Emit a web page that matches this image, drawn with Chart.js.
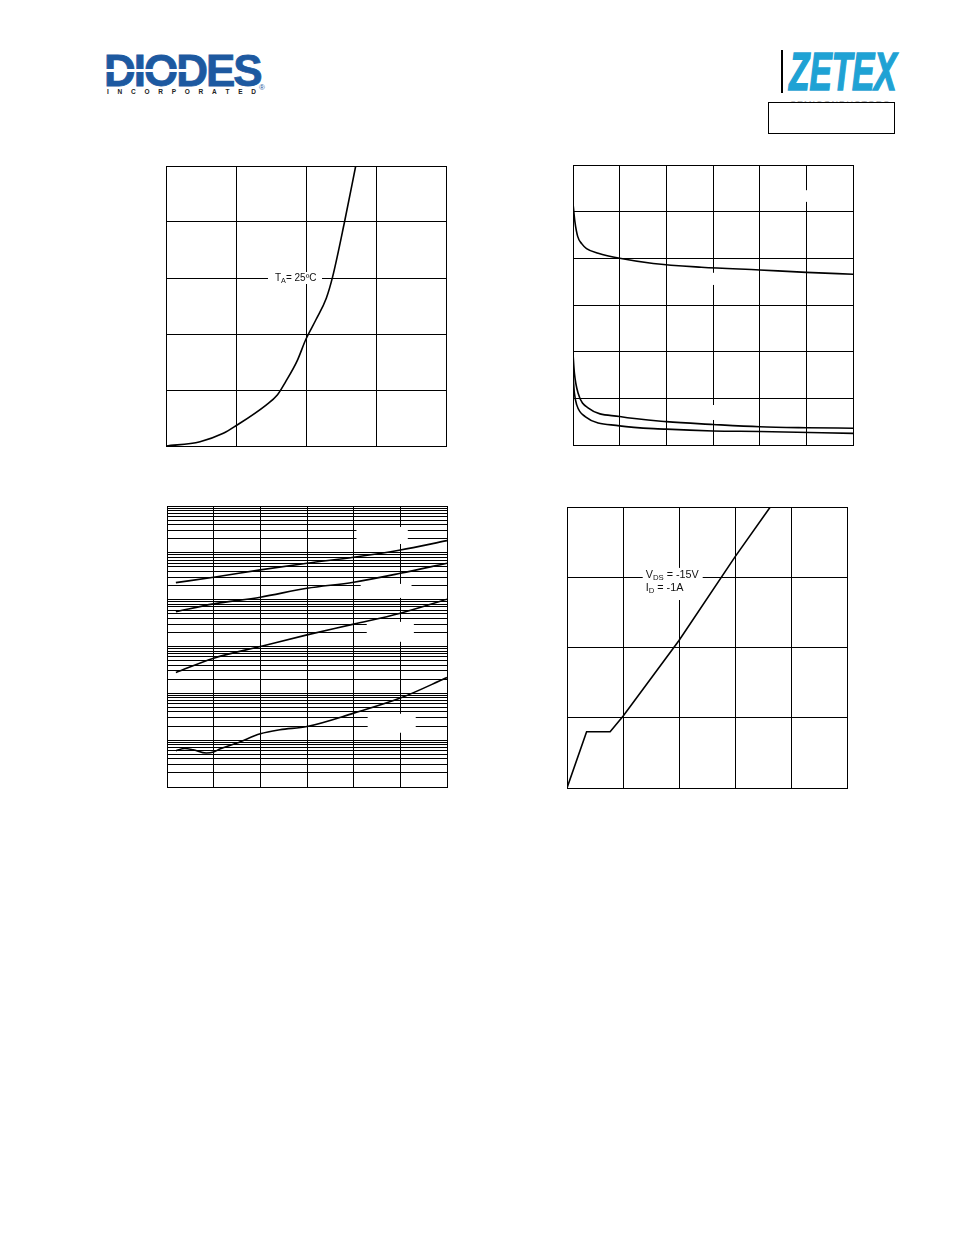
<!DOCTYPE html>
<html><head><meta charset="utf-8">
<script src="https://cdn.jsdelivr.net/npm/chart.js@4"></script>
<style>
html,body{margin:0;padding:0;background:#fff;}
body{width:954px;height:1235px;position:relative;overflow:hidden;font-family:"Liberation Sans",Arial,sans-serif;}
canvas{position:absolute;}
.diodes{position:absolute;left:104px;top:49px;font-weight:bold;font-size:44px;line-height:44px;color:#1d59a0;letter-spacing:-2px;-webkit-text-stroke:0.8px #1d59a0;white-space:nowrap;}
.stripe{position:absolute;left:106px;top:69px;width:84px;height:2.5px;background:#fff;}
.inc{position:absolute;left:107px;top:88px;width:149px;display:flex;justify-content:space-between;font-size:6.5px;font-weight:bold;color:#222;line-height:7px;}
.reg{position:absolute;left:259px;top:83px;font-size:8px;color:#1d59a0;}
.zetex{position:absolute;left:789px;top:45px;font-weight:bold;font-style:italic;font-size:53px;line-height:53px;color:#1fa2d4;-webkit-text-stroke:1.6px #1fa2d4;transform:scaleX(0.63);transform-origin:left top;white-space:nowrap;}
.vbar{position:absolute;left:781px;top:50px;width:1.5px;height:43px;background:#000;}
.semi{position:absolute;left:790px;top:99px;font-size:9px;color:#aaa;letter-spacing:1px;white-space:nowrap;}
.pbox{position:absolute;left:768px;top:102px;width:125px;height:30px;border:1.5px solid #000;background:#fff;}
</style>
</head><body>
<div class="diodes">DIODES</div>
<div class="stripe"></div>
<div class="inc"><span>I</span><span>N</span><span>C</span><span>O</span><span>R</span><span>P</span><span>O</span><span>R</span><span>A</span><span>T</span><span>E</span><span>D</span></div>
<div class="reg">®</div>
<div class="vbar"></div>
<div class="zetex">ZETEX</div>
<div class="semi">SEMICONDUCTORS</div>
<div class="pbox"></div>

<canvas id="c1" width="284" height="284" style="left:164px;top:164px"></canvas>
<canvas id="c2" width="284" height="284" style="left:571px;top:163px"></canvas>
<canvas id="c3" width="284" height="285" style="left:165px;top:504px"></canvas>
<canvas id="c4" width="284" height="285" style="left:565px;top:505px"></canvas>

<script>
// ---------- Chart 1 ----------
const c1XTicks = [0, 1, 2, 3, 4];
const c1YTicks = [0, 1, 2, 3, 4, 5];
const c1X = [0, 0.486, 0.819, 1.0, 1.43, 1.59, 1.71, 1.87, 2.0, 2.14, 2.29, 2.38, 2.55, 2.71];
const c1Y = [0, 0.077, 0.226, 0.362, 0.732, 0.911, 1.15, 1.51, 1.91, 2.25, 2.64, 3.02, 4.0, 5.0];

// ---------- Chart 2 ----------
const c2XTicks = [0, 1, 2, 3, 4, 5, 6];
const c2YTicks = [0, 1, 2, 3, 4, 5, 6];
const c2UpperX = [0, 0.04, 0.1, 0.19, 0.29, 0.54, 1.0, 1.72, 2.75, 4.0, 5.0, 6.0];
const c2Upper  = [5.18, 4.79, 4.47, 4.31, 4.21, 4.11, 4.0, 3.89, 3.81, 3.75, 3.70, 3.66];
const c2LowAX  = [0, 0.03, 0.11, 0.33, 1, 2, 3, 4, 5, 6];
const c2LowA   = [1.96, 1.54, 1.11, 0.79, 0.61, 0.50, 0.44, 0.39, 0.37, 0.36];
const c2LowBX  = [0, 0.03, 0.08, 0.26, 1, 2, 3, 4, 6];
const c2LowB   = [1.50, 1.11, 0.86, 0.61, 0.41, 0.34, 0.30, 0.29, 0.25];

// ---------- Chart 3 (log y) ----------
const c3XTicks = [0, 1, 2, 3, 4, 5, 6];
const c3Decades = [0.001, 0.01, 0.1, 1, 10, 100];
const c3Minor = [1, 2, 3, 4, 5, 6, 7, 8, 9];
const c3YMin = 0.001, c3YMax = 1000;
const c3X  = [0.19, 1, 2, 3, 4, 5, 6];
const c3S1 = [23.1, 30.1, 43.2, 60.0, 80.5, 115, 182];
const c3S2 = [5.56, 8.13, 11.3, 17.5, 23.6, 36.6, 60.0];
const c3S3 = [0.278, 0.563, 1.0, 1.77, 3.0, 5.15, 10.2];
const c3S4X = [0.19, 0.38, 0.56, 0.84, 1.0, 1.13, 1.5, 2.0, 2.42, 3.0, 4.0, 5.0, 6.0];
const c3S4  = [0.00594, 0.00665, 0.00624, 0.00531, 0.00557, 0.00646, 0.00867, 0.0137, 0.0167, 0.0196, 0.0378, 0.0791, 0.217];

// ---------- Chart 4 ----------
const c4XTicks = [0, 1, 2, 3, 4, 5];
const c4YTicks = [0, 1, 2, 3, 4];
const c4X = [0, 0.35, 0.77, 1.0, 2.0, 3.0, 3.63];
const c4Y = [0, 0.80, 0.80, 1.02, 2.10, 3.29, 4.0];

// ---------- annotations (white label boxes, in data units) ----------
const c1Boxes = [[1.457, 2.229, 3.107, 2.893]];
const c1Labels = [{x: 1.557, y: 3.0, parts: [{t: 'T'}, {t: 'A', sub: true}, {t: '= 25ºC'}]}];
const c2Boxes = [[4.65, 5.34, 5.46, 5.21], [2.68, 3.32, 3.69, 3.43], [2.68, 3.32, 0.857, 0.536]];
const c3Boxes = [[4.06, 5.16, 356.7, 154.5], [4.15, 5.24, 21.7, 10.9], [4.28, 5.29, 3.36, 1.26], [4.30, 5.33, 0.0366, 0.0144]];
const c4Boxes = [[1.352, 2.423, 3.133, 2.676]];
const c4Labels = [
  {x: 1.405, y: 3.033, parts: [{t: 'V'}, {t: 'DS', sub: true}, {t: ' = -15V'}]},
  {x: 1.405, y: 2.847, parts: [{t: 'I'}, {t: 'D', sub: true}, {t: ' = -1A'}]}
];

function zip(xs, ys) { return xs.map((x, i) => ({x: x, y: ys[i]})); }

function notesPlugin(boxes, labels, size) {
  return {
    id: 'notes',
    beforeDatasetsDraw(chart) {
      const ctx = chart.ctx, xs = chart.scales.x, ys = chart.scales.y;
      ctx.save();
      ctx.fillStyle = '#fff';
      boxes.forEach(b => {
        const x1 = xs.getPixelForValue(b[0]), x2 = xs.getPixelForValue(b[1]);
        const y1 = ys.getPixelForValue(b[2]), y2 = ys.getPixelForValue(b[3]);
        ctx.fillRect(Math.min(x1, x2), Math.min(y1, y2), Math.abs(x2 - x1), Math.abs(y2 - y1));
      });
      ctx.fillStyle = '#111';
      ctx.textBaseline = 'middle';
      ctx.textAlign = 'left';
      labels.forEach(l => {
        let px = xs.getPixelForValue(l.x);
        const py = ys.getPixelForValue(l.y);
        l.parts.forEach(p => {
          ctx.font = (p.sub ? size * 0.72 : size) + 'px "Liberation Sans", Arial';
          ctx.fillText(p.t, px, py + (p.sub ? 3 : 0));
          px += ctx.measureText(p.t).width;
        });
      });
      ctx.restore();
    }
  };
}

function axis(type, min, max, ticks) {
  return {
    type: type, min: min, max: max,
    afterBuildTicks: ax => { ax.ticks = ticks.map(v => ({value: v})); },
    ticks: {display: false, autoSkip: false},
    grid: {color: '#000', lineWidth: 1, drawTicks: false, tickLength: 0},
    border: {display: true, color: '#000', width: 1}
  };
}

function line(data, smooth) {
  return {
    data: data, borderColor: '#000', borderWidth: 1.6, pointRadius: 0, fill: false,
    showLine: true, tension: 0, cubicInterpolationMode: smooth ? 'monotone' : 'default'
  };
}

function make(id, datasets, xAx, yAx, plugin) {
  return new Chart(document.getElementById(id), {
    type: 'scatter',
    data: {datasets: datasets},
    options: {
      responsive: false, animation: false, devicePixelRatio: 1,
      layout: {padding: 2},
      plugins: {legend: {display: false}, tooltip: {enabled: false}},
      scales: {x: xAx, y: yAx},
      events: []
    },
    plugins: [plugin]
  });
}

make('c1', [line(zip(c1X, c1Y), true)],
  axis('linear', 0, 4, c1XTicks), axis('linear', 0, 5, c1YTicks), notesPlugin(c1Boxes, c1Labels, 10));

make('c2', [line(zip(c2UpperX, c2Upper), true), line(zip(c2LowAX, c2LowA), true), line(zip(c2LowBX, c2LowB), true)],
  axis('linear', 0, 6, c2XTicks), axis('linear', 0, 6, c2YTicks), notesPlugin(c2Boxes, [], 10));

const c3YTicks = [];
c3Decades.forEach(d => c3Minor.forEach(m => c3YTicks.push(+(d * m).toPrecision(3))));
c3YTicks.push(c3YMax);
make('c3', [line(zip(c3X, c3S1), true), line(zip(c3X, c3S2), true), line(zip(c3X, c3S3), true), line(zip(c3S4X, c3S4), true)],
  axis('linear', 0, 6, c3XTicks), axis('logarithmic', c3YMin, c3YMax, c3YTicks), notesPlugin(c3Boxes, [], 10));

make('c4', [line(zip(c4X, c4Y), false)],
  axis('linear', 0, 5, c4XTicks), axis('linear', 0, 4, c4YTicks), notesPlugin(c4Boxes, c4Labels, 10.8));
</script>
</body></html>
